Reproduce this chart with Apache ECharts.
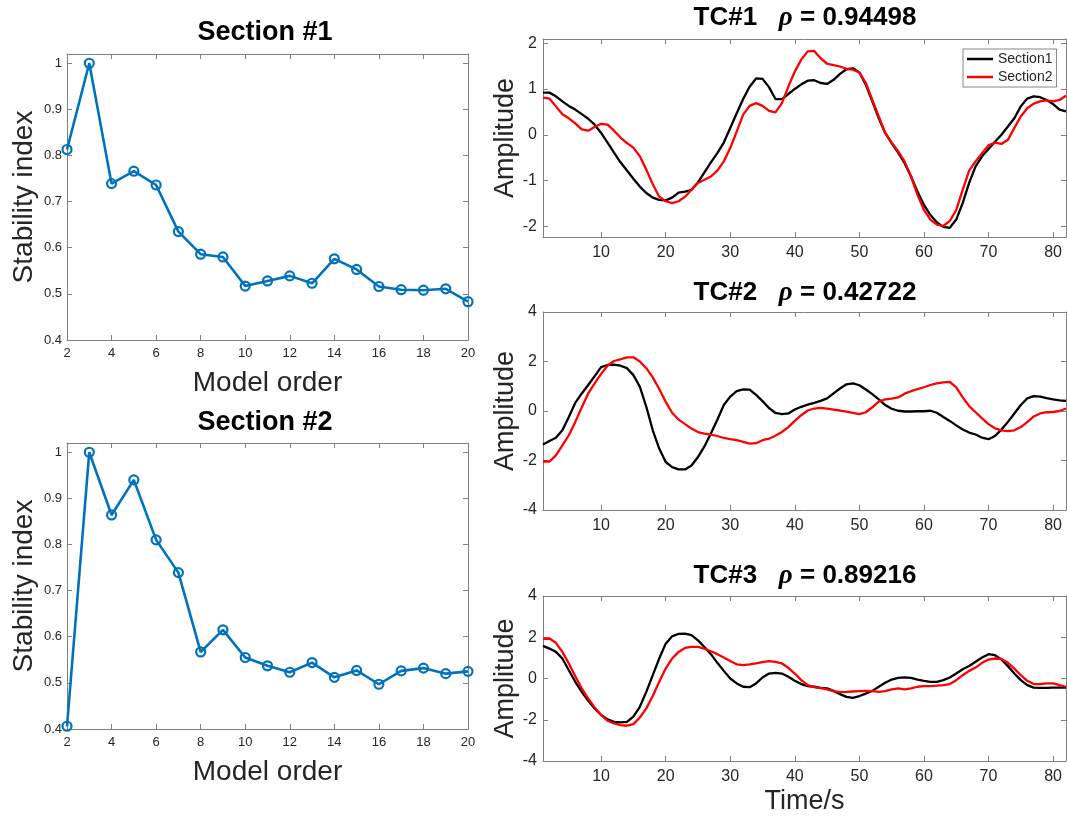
<html>
<head>
<meta charset="utf-8">
<script src="https://cdn.jsdelivr.net/npm/echarts@6/dist/echarts.min.js"></script>
</head>
<body style="margin:0;background:#fff">
<div id="main" style="width:1067px;height:818px;"></div>
<script type="text/javascript">
// stability diagrams (left column)
var modelOrder = [2, 3, 4, 5, 6, 7, 8, 9, 10, 11, 12, 13, 14, 15, 16, 17, 18, 19, 20];
var stabSec1 = [0.813, 1.0, 0.739, 0.766, 0.736, 0.635, 0.586, 0.580, 0.517, 0.528, 0.539, 0.523, 0.576, 0.553, 0.516, 0.509, 0.508, 0.511, 0.483];
var stabSec2 = [0.406, 1.0, 0.864, 0.940, 0.810, 0.739, 0.567, 0.615, 0.555, 0.537, 0.523, 0.544, 0.512, 0.527, 0.497, 0.526, 0.532, 0.520, 0.525];

// time courses (right column), samples at t = 1..82 s
var tc1Sec1 = [0.92, 0.92, 0.84, 0.73, 0.63, 0.55, 0.45, 0.35, 0.22, 0.04, -0.17, -0.39, -0.60, -0.78, -0.96, -1.13, -1.27, -1.37, -1.42, -1.43,
  -1.37, -1.26, -1.24, -1.20, -1.04, -0.82, -0.60, -0.40, -0.17, 0.15, 0.47, 0.78, 1.05, 1.23, 1.22, 1.04, 0.78, 0.78, 0.89, 1.00,
  1.10, 1.18, 1.19, 1.13, 1.11, 1.20, 1.33, 1.43, 1.45, 1.36, 1.09, 0.73, 0.36, 0.04, -0.18, -0.39, -0.62, -0.91, -1.24, -1.53,
  -1.75, -1.91, -2.01, -2.03, -1.85, -1.49, -1.05, -0.69, -0.47, -0.31, -0.15, 0.00, 0.18, 0.36, 0.62, 0.79, 0.84, 0.82, 0.76, 0.67,
  0.55, 0.51];
var tc1Sec2 = [0.81, 0.79, 0.62, 0.45, 0.36, 0.25, 0.12, 0.09, 0.17, 0.24, 0.22, 0.09, -0.06, -0.18, -0.28, -0.47, -0.76, -1.08, -1.35, -1.45,
  -1.49, -1.45, -1.35, -1.20, -1.05, -0.98, -0.91, -0.78, -0.58, -0.29, 0.07, 0.44, 0.63, 0.69, 0.63, 0.52, 0.49, 0.69, 1.05, 1.38,
  1.64, 1.82, 1.83, 1.67, 1.55, 1.52, 1.49, 1.44, 1.42, 1.36, 1.13, 0.76, 0.40, 0.04, -0.17, -0.36, -0.58, -0.91, -1.31, -1.64,
  -1.85, -1.96, -1.99, -1.88, -1.64, -1.20, -0.78, -0.58, -0.40, -0.23, -0.17, -0.20, -0.11, 0.15, 0.40, 0.58, 0.68, 0.73, 0.75, 0.73,
  0.76, 0.85];
var tc2Sec1 = [-1.35, -1.21, -1.08, -0.78, -0.24, 0.33, 0.71, 1.05, 1.41, 1.77, 1.86, 1.87, 1.83, 1.73, 1.45, 0.98, 0.17, -0.78, -1.52, -2.06,
  -2.27, -2.36, -2.36, -2.20, -1.86, -1.43, -0.91, -0.35, 0.24, 0.58, 0.80, 0.87, 0.86, 0.65, 0.40, 0.12, -0.08, -0.13, -0.10, 0.06,
  0.17, 0.26, 0.33, 0.41, 0.51, 0.71, 0.91, 1.08, 1.12, 1.04, 0.87, 0.68, 0.47, 0.24, 0.09, 0.01, -0.02, -0.02, -0.01, -0.01,
  0.01, -0.07, -0.24, -0.40, -0.58, -0.75, -0.87, -0.95, -1.08, -1.14, -1.01, -0.75, -0.44, -0.10, 0.24, 0.51, 0.60, 0.58, 0.52, 0.47,
  0.43, 0.41];
var tc2Sec2 = [-2.04, -2.04, -1.79, -1.39, -0.98, -0.44, 0.14, 0.71, 1.12, 1.50, 1.83, 2.02, 2.09, 2.17, 2.17, 2.00, 1.73, 1.36, 0.89, 0.37,
  -0.07, -0.35, -0.53, -0.71, -0.85, -0.91, -0.95, -1.01, -1.09, -1.14, -1.18, -1.25, -1.32, -1.30, -1.18, -1.12, -1.00, -0.85, -0.65, -0.40,
  -0.17, 0.02, 0.10, 0.13, 0.10, 0.06, 0.02, -0.03, -0.08, -0.13, -0.05, 0.15, 0.38, 0.47, 0.50, 0.55, 0.70, 0.80, 0.88, 0.96,
  1.05, 1.12, 1.16, 1.18, 0.95, 0.55, 0.20, -0.05, -0.30, -0.53, -0.70, -0.78, -0.81, -0.78, -0.65, -0.45, -0.22, -0.10, -0.05, -0.04,
  0.00, 0.10];
var tc3Sec1 = [1.58, 1.45, 1.29, 0.97, 0.40, -0.16, -0.65, -1.08, -1.45, -1.77, -1.98, -2.10, -2.13, -2.10, -1.85, -1.37, -0.65, 0.16, 0.97, 1.69,
  2.05, 2.16, 2.18, 2.10, 1.85, 1.53, 1.18, 0.76, 0.37, 0.00, -0.24, -0.40, -0.42, -0.24, 0.05, 0.24, 0.27, 0.24, 0.08, -0.11,
  -0.27, -0.37, -0.40, -0.45, -0.48, -0.60, -0.76, -0.89, -0.94, -0.85, -0.73, -0.60, -0.40, -0.21, -0.05, 0.03, 0.05, 0.03, -0.05, -0.11,
  -0.16, -0.16, -0.08, 0.05, 0.24, 0.45, 0.61, 0.81, 1.02, 1.18, 1.13, 0.92, 0.60, 0.24, -0.08, -0.32, -0.44, -0.45, -0.45, -0.44,
  -0.44, -0.44];
var tc3Sec2 = [1.92, 1.94, 1.73, 1.29, 0.73, 0.11, -0.48, -0.97, -1.40, -1.77, -2.05, -2.18, -2.26, -2.29, -2.21, -1.89, -1.45, -0.85, -0.16, 0.48,
  0.97, 1.29, 1.48, 1.53, 1.53, 1.45, 1.32, 1.18, 1.02, 0.85, 0.69, 0.65, 0.68, 0.73, 0.79, 0.84, 0.81, 0.73, 0.52, 0.24,
  -0.08, -0.32, -0.42, -0.47, -0.53, -0.61, -0.66, -0.65, -0.63, -0.61, -0.60, -0.61, -0.65, -0.61, -0.53, -0.48, -0.53, -0.48, -0.40, -0.37,
  -0.37, -0.35, -0.32, -0.27, -0.08, 0.16, 0.37, 0.53, 0.76, 0.92, 0.97, 0.95, 0.76, 0.48, 0.16, -0.11, -0.27, -0.27, -0.24, -0.24,
  -0.32, -0.40];

var sectionTitles = ['Section #1', 'Section #2'];
var tcNames = ['TC#1', 'TC#2', 'TC#3'];
var tcRho = ['0.94498', '0.42722', '0.89216'];
var seriesNames = ['Section1', 'Section2'];

var timeS = [];
for (var i = 1; i <= 82; i++) timeS.push(i);

function pairs(xs, ys) {
  return ys.map(function (v, k) { return [xs[k], v]; });
}

var FONT = '"Liberation Sans", Arial, Helvetica, sans-serif';
var AXC = '#808080';
var TXT = '#262626';

var grids = [
  { left: 67, top: 54, width: 401, height: 286 },
  { left: 67, top: 443, width: 401, height: 286 },
  { left: 543, top: 39, width: 523, height: 198 },
  { left: 543, top: 312, width: 523, height: 198 },
  { left: 543, top: 596, width: 523, height: 165 }
];
grids.forEach(function (g) { g.containLabel = false; g.outerBoundsMode = 'none'; });

// only label "round" tick values, hide the extent labels
function tickFmt(step, dec) {
  return function (v) {
    var r = Math.round(v / step) * step;
    if (Math.abs(v - r) > 1e-6) return '';
    return String(+r.toFixed(dec));
  };
}

var xAxes = [], yAxes = [];
function addAxes(g, xo, yo) {
  var line = { show: true, onZero: false, lineStyle: { color: AXC, width: 1 } };
  var tick = { show: true, inside: true, length: 5, lineStyle: { color: AXC } };
  ['bottom', 'top'].forEach(function (pos) {
    var a = {
      gridIndex: g, type: 'value', position: pos, min: xo.min, max: xo.max,
      axisLine: line, axisTick: tick, splitLine: { show: false },
      axisLabel: pos === 'bottom' ? {
        show: true, color: TXT, fontSize: xo.fs, fontFamily: FONT, margin: xo.margin,
        formatter: tickFmt(xo.step, 0), showMinLabel: xo.showMin, showMaxLabel: xo.showMax
      } : { show: false }
    };
    if (xo.interval) a.interval = xo.interval; else a.splitNumber = xo.split;
    if (pos === 'bottom' && xo.name) {
      a.name = xo.name; a.nameLocation = 'middle'; a.nameGap = xo.nameGap;
      a.nameTextStyle = { fontSize: xo.nameSize, color: TXT, fontFamily: FONT };
    }
    xAxes.push(a);
  });
  ['left', 'right'].forEach(function (pos) {
    var a = {
      gridIndex: g, type: 'value', position: pos, min: yo.min, max: yo.max,
      axisLine: line, axisTick: tick, splitLine: { show: false },
      axisLabel: pos === 'left' ? {
        show: true, color: TXT, fontSize: yo.fs, fontFamily: FONT, margin: yo.margin,
        formatter: tickFmt(yo.step, yo.dec)
      } : { show: false }
    };
    if (yo.interval) a.interval = yo.interval; else a.splitNumber = yo.split;
    if (pos === 'left') {
      a.name = yo.name; a.nameLocation = 'middle'; a.nameGap = yo.nameGap; a.nameRotate = 90;
      a.nameTextStyle = { fontSize: yo.nameSize, color: TXT, fontFamily: FONT };
    }
    yAxes.push(a);
  });
}

// left column
for (var s = 0; s < 2; s++) {
  addAxes(s,
    { min: 2, max: 20, interval: 2, step: 2, fs: 13, margin: 7, showMin: true, showMax: true,
      name: 'Model order', nameGap: 29, nameSize: 28 },
    { min: 0.4, max: 1.02, split: 6, step: 0.1, dec: 1, fs: 13, margin: 5,
      name: 'Stability index', nameGap: 29, nameSize: 28 });
}
// right column
addAxes(2,
  { min: 1, max: 82, split: 8, step: 10, fs: 16, margin: 8 },
  { min: -2.23, max: 2.09, split: 4, step: 1, dec: 0, fs: 16, margin: 6, name: 'Amplitude', nameGap: 24, nameSize: 27 });
addAxes(3,
  { min: 1, max: 82, split: 8, step: 10, fs: 16, margin: 8 },
  { min: -4, max: 4, interval: 2, step: 2, dec: 0, fs: 16, margin: 6, name: 'Amplitude', nameGap: 24, nameSize: 27 });
addAxes(4,
  { min: 1, max: 82, split: 8, step: 10, fs: 16, margin: 8, name: 'Time/s', nameGap: 27, nameSize: 27 },
  { min: -4, max: 4, interval: 2, step: 2, dec: 0, fs: 16, margin: 6, name: 'Amplitude', nameGap: 24, nameSize: 27 });

var series = [];
[stabSec1, stabSec2].forEach(function (vals, k) {
  series.push({
    type: 'line', name: sectionTitles[k], xAxisIndex: k * 2, yAxisIndex: k * 2,
    data: pairs(modelOrder, vals),
    symbol: 'circle', symbolSize: 9,
    lineStyle: { color: '#0072BD', width: 2.6 },
    itemStyle: { color: 'rgba(255,255,255,0)', borderColor: '#0072BD', borderWidth: 2.2 },
    animation: false
  });
});
var tcData = [[tc1Sec1, tc1Sec2], [tc2Sec1, tc2Sec2], [tc3Sec1, tc3Sec2]];
var tcColors = ['#000000', '#ff0000'];
tcData.forEach(function (pair, k) {
  pair.forEach(function (vals, j) {
    series.push({
      type: 'line', name: seriesNames[j], xAxisIndex: (k + 2) * 2, yAxisIndex: (k + 2) * 2,
      data: pairs(timeS, vals), symbol: 'none', showSymbol: false,
      lineStyle: { color: tcColors[j], width: 2.3 }, itemStyle: { color: tcColors[j] },
      animation: false
    });
  });
});

var titles = [];
sectionTitles.forEach(function (t, k) {
  titles.push({
    text: t, left: 265, top: [33, 423][k], textAlign: 'center', textVerticalAlign: 'middle', padding: 0,
    textStyle: { fontSize: 27, fontWeight: 'bold', color: '#000', fontFamily: FONT }
  });
});
tcNames.forEach(function (t, k) {
  titles.push({
    text: '{b|' + t + '}{b|   }{r|ρ}{b| = ' + tcRho[k] + '}',
    left: 805, top: [18, 293, 576][k], textAlign: 'center', textVerticalAlign: 'middle', padding: 0,
    textStyle: {
      rich: {
        b: { fontSize: 26, fontWeight: 'bold', color: '#000', fontFamily: FONT },
        r: { fontSize: 27, fontStyle: 'italic', color: '#000', fontFamily: '"Liberation Serif", "Times New Roman", serif' }
      }
    }
  });
});

var myChart = echarts.init(document.getElementById('main'));
myChart.setOption({
  backgroundColor: '#ffffff',
  animation: false,
  title: titles,
  grid: grids,
  xAxis: xAxes,
  yAxis: yAxes,
  legend: {
    data: seriesNames, orient: 'vertical', left: 963, top: 49,
    icon: 'rect', itemWidth: 26, itemHeight: 2.5, itemGap: 4,
    padding: [3, 4, 3, 4], backgroundColor: '#fff', borderColor: '#888', borderWidth: 1, borderRadius: 0,
    textStyle: { fontSize: 14, color: TXT, fontFamily: FONT, lineHeight: 14 },
    selectedMode: false
  },
  series: series
});
</script>
</body>
</html>
